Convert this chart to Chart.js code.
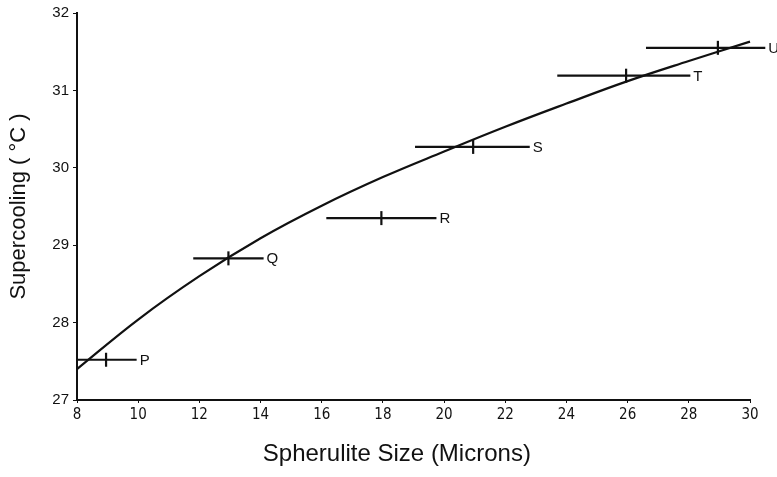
<!DOCTYPE html>
<html>
<head>
<meta charset="utf-8">
<script src="https://cdn.jsdelivr.net/npm/chart.js@4.4.0/dist/chart.umd.min.js"></script>
<style>
  html, body { margin: 0; padding: 0; background: #fff; }
</style>
</head>
<body>
<canvas id="chart" width="777" height="477"></canvas>
<script>
// samples P..U: mean spherulite size with its spread, and supercooling
const sampleNames = ["P", "Q", "R", "S", "T", "U"];
const sizeMean = [8.95, 12.95, 17.95, 20.95, 25.95, 28.95];
const sizeLow = [8.0, 11.8, 16.15, 19.05, 23.7, 26.6];
const sizeHigh = [9.95, 14.1, 19.75, 22.8, 28.05, 30.5];
const supercooling = [27.52, 28.83, 29.35, 30.27, 31.19, 31.55];

// fitted curve
const curveSize = [8, 10, 12, 14, 16, 18, 20, 22, 24, 26, 28, 30];
const curveSupercooling = [27.40, 28.04, 28.60, 29.09, 29.51, 29.88, 30.21, 30.53, 30.83, 31.12, 31.38, 31.63];

const xTicks = [8, 10, 12, 14, 16, 18, 20, 22, 24, 26, 28, 30];
const yTicks = [27, 28, 29, 30, 31, 32];

const INK = "#111";

let datasets = [];

// the curve
datasets.push({
  data: curveSize.map((x, i) => ({ x: x, y: curveSupercooling[i] })),
  showLine: true,
  borderColor: INK,
  borderWidth: 2.2,
  pointRadius: 0,
  tension: 0.4,
  clip: false,
});

// horizontal spread bars, one per sample
sampleNames.forEach((name, i) => {
  datasets.push({
    data: [{ x: sizeLow[i], y: supercooling[i] }, { x: sizeHigh[i], y: supercooling[i] }],
    showLine: true,
    borderColor: INK,
    borderWidth: 2.2,
    pointRadius: 0,
    clip: false,
  });
});

// vertical tick at each mean
datasets.push({
  data: sizeMean.map((x, i) => ({ x: x, y: supercooling[i] })),
  showLine: false,
  pointStyle: "line",
  rotation: 90,
  pointRadius: 7,
  borderColor: INK,
  borderWidth: 2.2,
  clip: false,
});

/*
  @desc: writes the sample letter just past the right end of each bar
*/
const letterPlugin = {
  id: "letters",
  afterDatasetsDraw(chart) {
    const ctx = chart.ctx;
    const xs = chart.scales.x;
    const ys = chart.scales.y;
    ctx.save();
    ctx.fillStyle = INK;
    ctx.font = "15px 'Liberation Sans', Arial, sans-serif";
    ctx.textBaseline = "middle";
    ctx.textAlign = "left";
    sampleNames.forEach((name, i) => {
      ctx.fillText(name, xs.getPixelForValue(sizeHigh[i]) + 3, ys.getPixelForValue(supercooling[i]) + 1);
    });
    ctx.restore();
  },
};

const config = {
  type: "scatter",
  data: { datasets: datasets },
  options: {
    responsive: false,
    animation: false,
    layout: { padding: { top: 12, right: 27, left: 0, bottom: 0 } },
    plugins: {
      legend: { display: false },
      tooltip: { enabled: false },
    },
    scales: {
      x: {
        type: "linear",
        min: 8,
        max: 30,
        afterBuildTicks: (s) => { s.ticks = xTicks.map(v => ({ value: v })); },
        afterFit: (s) => { s.height = 77; },
        ticks: {
          color: INK,
          padding: 3,
          font: { family: "'Liberation Sans Narrow', 'DejaVu Sans Condensed', 'Liberation Sans', sans-serif", size: 15 },
        },
        grid: { drawOnChartArea: false, tickLength: 3, color: INK, lineWidth: 1 },
        border: { color: INK, width: 2 },
        title: {
          display: true,
          // trailing spaces pull the centred title a little left, as in the original
          text: "Spherulite Size (Microns)\u00a0\u00a0\u00a0\u00a0\u00a0",
          color: INK,
          font: { family: "'Liberation Sans', Arial, sans-serif", size: 24 },
          padding: { top: 0, bottom: 8 },
        },
      },
      y: {
        type: "linear",
        min: 27,
        max: 32,
        afterBuildTicks: (s) => { s.ticks = yTicks.map(v => ({ value: v })); },
        afterFit: (s) => { s.width = 77; },
        ticks: {
          color: INK,
          padding: 4,
          font: { family: "'Liberation Sans', Arial, sans-serif", size: 15 },
        },
        grid: { drawOnChartArea: false, tickLength: 4, color: INK, lineWidth: 1 },
        border: { color: INK, width: 2 },
        title: {
          display: true,
          text: "Supercooling ( °C )",
          color: INK,
          font: { family: "'Liberation Sans', Arial, sans-serif", size: 22 },
          padding: { top: 6, bottom: 0 },
        },
      },
    },
  },
  plugins: [letterPlugin],
};

const supercoolingChart = new Chart(document.getElementById("chart"), config);
</script>
</body>
</html>
